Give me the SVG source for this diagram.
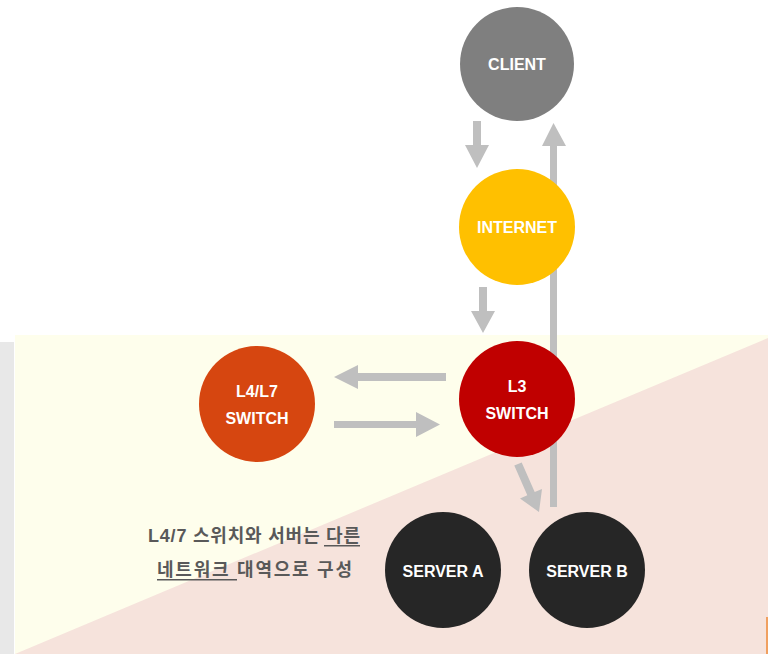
<svg xmlns="http://www.w3.org/2000/svg" width="768" height="654" viewBox="0 0 768 654">
<style>
.lbl{font-family:"Liberation Sans",Arial,sans-serif;font-weight:bold;font-size:16px;fill:#ffffff;text-anchor:middle}
.note{font-family:"Liberation Sans","Noto Sans CJK KR",sans-serif;font-weight:bold;font-size:18px;fill:#595959}
.arr{fill:#bfbfbf}
</style>
<rect x="0" y="0" width="768" height="654" fill="#ffffff"/>
<rect x="0" y="342" width="14" height="312" fill="#e8e8e8"/>
<rect x="15" y="335" width="753" height="319" fill="#fefeec"/>
<polygon points="15,654 768,338 768,654" fill="#f6e3dc"/>
<rect x="766" y="617" width="2" height="37" fill="#f0a060"/>
<g id="connectors">
<polygon class="arr" points="473,121 481,121 481,145 489,145 477,168 465,145 473,145"/>
<polygon class="arr" points="479,287 487,287 487,311 495,311 483,333 471,311 479,311"/>
<polygon class="arr" points="550,507 557,507 557,146 566,146 553.5,123 542,146 550,146"/>
<polygon class="arr" points="446,373 446,381 358,381 358,389 334,377 358,365 358,373"/>
<polygon class="arr" points="334,421 416,421 416,412 440,424.5 416,437 416,428 334,428"/>
<polygon class="arr" points="514.3,465.6 521.7,462.4 534.7,492.1 542,488.9 539,512 520,498.5 527.3,495.3"/>
</g>
<g id="client"><circle cx="517" cy="64" r="57" fill="#7f7f7f"/><text class="lbl" x="517" y="70">CLIENT</text></g>
<g id="internet"><circle cx="517" cy="227" r="58" fill="#ffc000"/><text class="lbl" x="517" y="233">INTERNET</text></g>
<g id="l3"><circle cx="517" cy="399" r="58" fill="#c00000"/><text class="lbl" x="517" y="392">L3</text><text class="lbl" x="517" y="419">SWITCH</text></g>
<g id="l47"><circle cx="257" cy="404" r="58" fill="#d64610"/><text class="lbl" x="257" y="397">L4/L7</text><text class="lbl" x="257" y="424">SWITCH</text></g>
<g id="serverA"><circle cx="443" cy="570" r="58" fill="#262626"/><text class="lbl" x="443" y="577">SERVER A</text></g>
<g id="serverB"><circle cx="587" cy="570" r="58" fill="#262626"/><text class="lbl" x="587" y="577">SERVER B</text></g>
<g id="note">
<text class="note" x="148" y="542" textLength="212" lengthAdjust="spacing">L4/7 스위치와 서버는 다른</text>
<text class="note" x="157" y="576" textLength="195" lengthAdjust="spacing">네트워크  대역으로 구성</text>
<rect x="324" y="545" width="36" height="1.5" fill="#595959"/>
<rect x="157" y="579" width="80" height="1.5" fill="#595959"/>
</g>
</svg>
